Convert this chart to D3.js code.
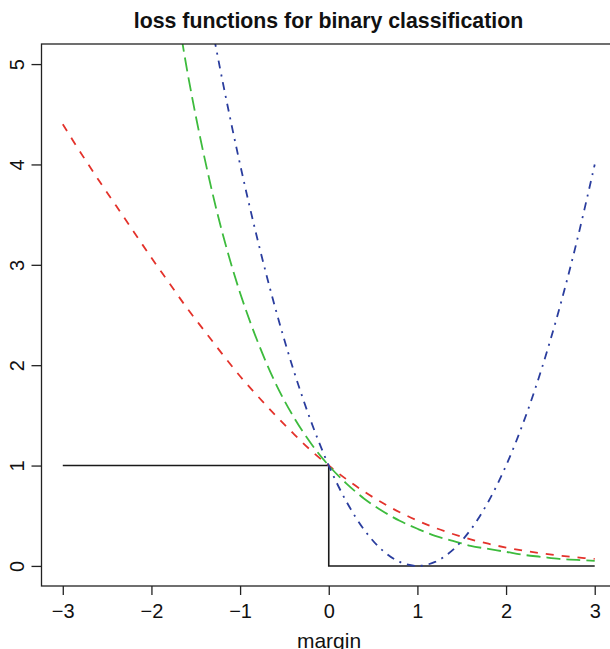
<!DOCTYPE html>
<html>
<head>
<meta charset="utf-8">
<script src="https://cdn.jsdelivr.net/npm/d3@7"></script>
<style>
  html, body { margin: 0; padding: 0; background: #fff; }
  svg { display: block; font-family: "Liberation Sans", Arial, Helvetica, sans-serif; }
</style>
</head>
<body>
<div id="chart"></div>
<script>
// Margin grid and loss values for each loss function
const margins = [-3.0, -2.8, -2.6, -2.4, -2.2, -2.0, -1.8, -1.6, -1.4, -1.2, -1.0,
                 -0.8, -0.6, -0.4, -0.2, 0.0, 0.2, 0.4, 0.6, 0.8, 1.0,
                 1.2, 1.4, 1.6, 1.8, 2.0, 2.2, 2.4, 2.6, 2.8, 3.0];

// logistic (binomial deviance, base 2)
const logLoss = [4.40, 4.12, 3.85, 3.59, 3.33, 3.07, 2.82, 2.57, 2.34, 2.11, 1.89,
                 1.69, 1.50, 1.32, 1.15, 1.00, 0.863, 0.740, 0.631, 0.535, 0.452,
                 0.380, 0.318, 0.265, 0.221, 0.183, 0.152, 0.125, 0.103, 0.085, 0.070];

// exponential loss (starts above the top of the panel)
const expMargins = [-1.8, -1.6, -1.4, -1.2, -1.0, -0.8, -0.6, -0.4, -0.2, 0.0, 0.2, 0.4,
                    0.6, 0.8, 1.0, 1.2, 1.4, 1.6, 1.8, 2.0, 2.2, 2.4, 2.6, 2.8, 3.0];
const expLoss = [6.05, 4.95, 4.06, 3.32, 2.72, 2.23, 1.82, 1.49, 1.22, 1.00, 0.82, 0.67,
                 0.55, 0.45, 0.37, 0.30, 0.25, 0.20, 0.17, 0.14, 0.11, 0.09, 0.07, 0.06, 0.05];

// squared loss
const sqMargins = [-1.4, -1.2, -1.0, -0.8, -0.6, -0.4, -0.2, 0.0, 0.2, 0.4, 0.6, 0.8, 1.0,
                   1.2, 1.4, 1.6, 1.8, 2.0, 2.2, 2.4, 2.6, 2.8, 3.0];
const sqLoss = [5.76, 4.84, 4.00, 3.24, 2.56, 1.96, 1.44, 1.00, 0.64, 0.36, 0.16, 0.04, 0.00,
                0.04, 0.16, 0.36, 0.64, 1.00, 1.44, 1.96, 2.56, 3.24, 4.00];

// misclassification (0-1) loss
const zeroOneMargins = [-3, 0, 0, 3];
const zeroOneLoss = [1, 1, 0, 0];

const xTicks = [-3, -2, -1, 0, 1, 2, 3];
const yTicks = [0, 1, 2, 3, 4, 5];

const W = 610, H = 649;
const plot = { left: 41.5, right: 616, top: 44, bottom: 586 };

const svg = d3.select("#chart").append("svg")
  .attr("width", W).attr("height", H);

const x = d3.scaleLinear().domain([-3.24, 3.24]).range([plot.left, plot.right]);
const y = d3.scaleLinear().domain([-0.2, 5.2]).range([plot.bottom, plot.top]);

svg.append("defs").append("clipPath").attr("id", "panel")
  .append("rect")
  .attr("x", plot.left).attr("y", plot.top)
  .attr("width", plot.right - plot.left).attr("height", plot.bottom - plot.top);

const g = svg.append("g").attr("clip-path", "url(#panel)");

const line = d3.line().x(d => x(d[0])).y(d => y(d[1]));
const smooth = d3.line().x(d => x(d[0])).y(d => y(d[1])).curve(d3.curveCatmullRom.alpha(0.5));

const series = [
  { xs: zeroOneMargins, ys: zeroOneLoss, gen: line, color: "#1a1a1a", dash: null, w: 1.6 },
  { xs: margins, ys: logLoss, gen: smooth, color: "#e3322b", dash: "8,8", w: 1.8 },
  { xs: expMargins, ys: expLoss, gen: smooth, color: "#3dbb3d", dash: "14,6", w: 1.8 },
  { xs: sqMargins, ys: sqLoss, gen: smooth, color: "#2a3d9e", dash: "2,6,8,6", w: 1.8 }
];

series.forEach(s => {
  g.append("path")
    .datum(s.xs.map((m, i) => [m, s.ys[i]]))
    .attr("d", s.gen)
    .attr("fill", "none")
    .attr("stroke", s.color)
    .attr("stroke-width", s.w)
    .attr("stroke-dasharray", s.dash);
});

// panel box
svg.append("rect")
  .attr("x", plot.left).attr("y", plot.top)
  .attr("width", plot.right - plot.left).attr("height", plot.bottom - plot.top)
  .attr("fill", "none").attr("stroke", "#222").attr("stroke-width", 1.3);

// axes
const xAxis = svg.append("g")
  .attr("transform", `translate(0,${plot.bottom})`)
  .call(d3.axisBottom(x).tickValues(xTicks).tickSize(9).tickFormat(d3.format("")));
xAxis.select(".domain").remove();
xAxis.selectAll("line").attr("stroke", "#222").attr("stroke-width", 1.3);
xAxis.selectAll("text")
  .attr("y", 31.5).attr("dy", null)
  .attr("fill", "#111")
  .style("font-size", "20px")
  .style("font-family", '"Liberation Sans", Arial, sans-serif');

const yAxis = svg.append("g")
  .attr("transform", `translate(${plot.left},0)`)
  .call(d3.axisLeft(y).tickValues(yTicks).tickSize(10).tickFormat(d3.format("")));
yAxis.select(".domain").remove();
yAxis.selectAll("line").attr("stroke", "#222").attr("stroke-width", 1.3);
yAxis.selectAll("text")
  .attr("x", null).attr("dy", null)
  .attr("text-anchor", "middle")
  .attr("transform", "translate(-17.5,0) rotate(-90)")
  .attr("fill", "#111")
  .style("font-size", "20px")
  .style("font-family", '"Liberation Sans", Arial, sans-serif');

// title and axis label
svg.append("text")
  .attr("x", 328.5).attr("y", 27.5)
  .attr("text-anchor", "middle")
  .style("font-size", "21.3px").style("font-weight", "bold")
  .attr("fill", "#111")
  .text("loss functions for binary classification");

svg.append("text")
  .attr("x", 329).attr("y", 647.5)
  .attr("text-anchor", "middle")
  .style("font-size", "21px")
  .attr("fill", "#111")
  .text("margin");
</script>
</body>
</html>
